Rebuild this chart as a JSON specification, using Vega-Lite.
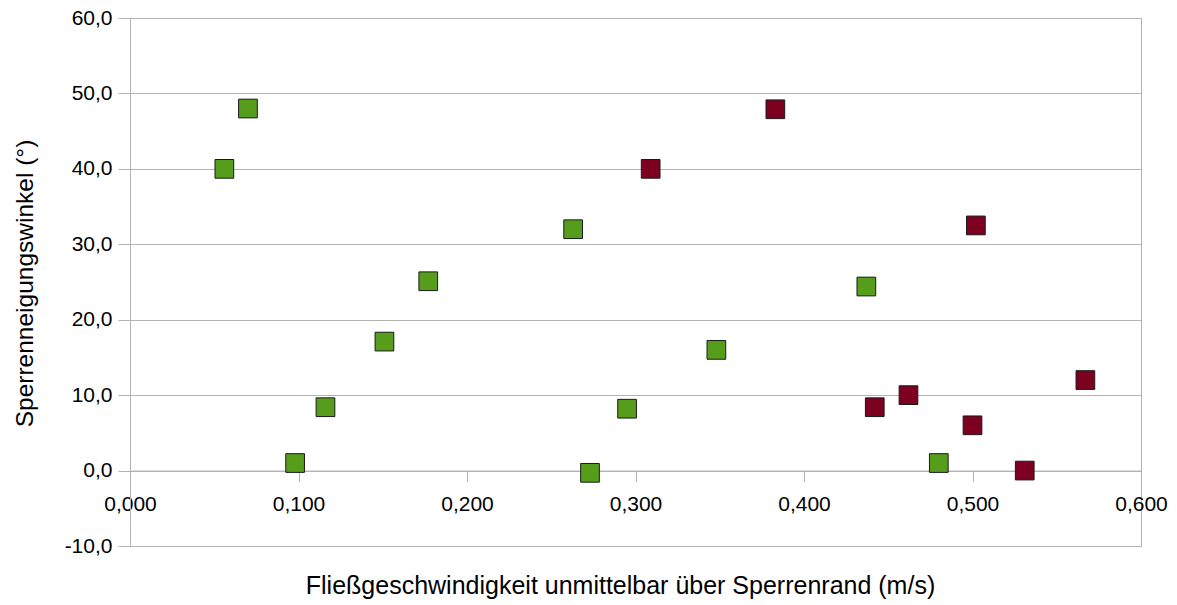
{
  "$schema": "https://vega.github.io/schema/vega-lite/v6.json",
  "width": 1011,
  "height": 528,
  "autosize": "none",
  "padding": {"left": 130, "top": 18, "right": 36, "bottom": 59},
  "background": "white",
  "config": {
    "view": {"stroke": "#b3b3b3", "strokeWidth": 1},
    "font": "Liberation Sans"
  },
  "data": {
    "values": [
      {"speed": 0.056, "angle": 40.0, "series": "A"},
      {"speed": 0.070, "angle": 48.0, "series": "A"},
      {"speed": 0.098, "angle": 1.0, "series": "A"},
      {"speed": 0.116, "angle": 8.4, "series": "A"},
      {"speed": 0.151, "angle": 17.1, "series": "A"},
      {"speed": 0.177, "angle": 25.1, "series": "A"},
      {"speed": 0.263, "angle": 32.0, "series": "A"},
      {"speed": 0.273, "angle": -0.3, "series": "A"},
      {"speed": 0.295, "angle": 8.2, "series": "A"},
      {"speed": 0.348, "angle": 16.0, "series": "A"},
      {"speed": 0.437, "angle": 24.4, "series": "A"},
      {"speed": 0.480, "angle": 1.0, "series": "A"},
      {"speed": 0.309, "angle": 40.0, "series": "B"},
      {"speed": 0.383, "angle": 47.9, "series": "B"},
      {"speed": 0.502, "angle": 32.5, "series": "B"},
      {"speed": 0.442, "angle": 8.4, "series": "B"},
      {"speed": 0.462, "angle": 10.0, "series": "B"},
      {"speed": 0.500, "angle": 6.0, "series": "B"},
      {"speed": 0.531, "angle": 0.0, "series": "B"},
      {"speed": 0.567, "angle": 12.0, "series": "B"}
    ]
  },
  "mark": {"type": "square", "size": 350, "filled": true, "opacity": 1, "stroke": "#1a1a1a", "strokeWidth": 1},
  "encoding": {
    "x": {
      "field": "speed",
      "type": "quantitative",
      "scale": {"domain": [0, 0.6], "nice": false, "zero": false},
      "axis": {
        "title": "Fließgeschwindigkeit unmittelbar über Sperrenrand (m/s)",
        "values": [0, 0.1, 0.2, 0.3, 0.4, 0.5, 0.6],
        "labelExpr": "replace(format(datum.value, '.3f'), '.', ',')",
        "offset": -75.43,
        "grid": false,
        "domainColor": "#b3b3b3",
        "tickColor": "#b3b3b3",
        "tickSize": 11,
        "labelPadding": 12,
        "labelFontSize": 21,
        "labelColor": "#000000",
        "labelFlush": false,
        "labelOverlap": false,
        "titleFontSize": 25,
        "titleFontWeight": "normal",
        "titleColor": "#000000",
        "titleX": 490,
        "titleY": 123,
        "titleBaseline": "alphabetic",
        "titleAlign": "center"
      }
    },
    "y": {
      "field": "angle",
      "type": "quantitative",
      "scale": {"domain": [-10, 60], "nice": false, "zero": false},
      "axis": {
        "title": "Sperrenneigungswinkel (°)",
        "values": [-10, 0, 10, 20, 30, 40, 50, 60],
        "labelExpr": "replace(replace(format(datum.value, '.1f'), '.', ','), '−', '-')",
        "grid": true,
        "gridColor": "#b3b3b3",
        "domainColor": "#b3b3b3",
        "tickColor": "#b3b3b3",
        "tickSize": 12,
        "labelPadding": 6,
        "labelFontSize": 21,
        "labelColor": "#000000",
        "labelOverlap": false,
        "labelFlush": false,
        "titleFontSize": 24.5,
        "titleFontWeight": "normal",
        "titleColor": "#000000",
        "titleX": -98,
        "titleY": 265,
        "titleAngle": -90,
        "titleAlign": "center",
        "titleBaseline": "alphabetic"
      }
    },
    "color": {
      "field": "series",
      "type": "nominal",
      "scale": {"domain": ["A", "B"], "range": ["#579d1c", "#7e0021"]},
      "legend": null
    }
  }
}
